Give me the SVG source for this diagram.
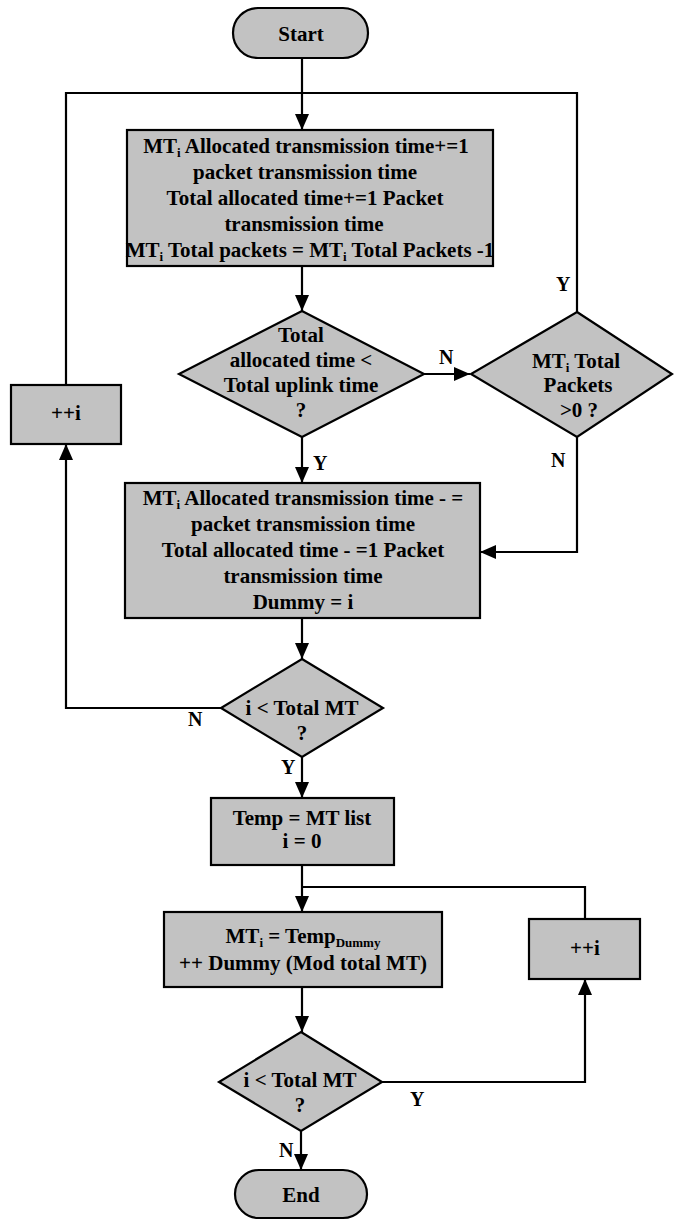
<svg xmlns="http://www.w3.org/2000/svg" width="674" height="1223" viewBox="0 0 674 1223">
  <style>
    .shape { fill: #c2c2c2; stroke: #000; stroke-width: 2.2; }
    .txt { font-family: "Liberation Serif", "Times New Roman", serif; font-weight: bold; font-size: 21px; fill: #000; text-anchor: middle; }
    .lbl { font-family: "Liberation Serif", "Times New Roman", serif; font-weight: bold; font-size: 20px; fill: #000; }
    .sub { font-size: 13px; }
    .conn { fill: none; stroke: #000; stroke-width: 2.2; }
  </style>
  <defs>
    <marker id="arrow" viewBox="0 0 16 14" refX="16" refY="7" markerWidth="16" markerHeight="14" markerUnits="userSpaceOnUse" orient="auto">
      <path d="M0,0 L16,7 L0,14 z" fill="#000"/>
    </marker>
  </defs>

  <rect width="674" height="1223" fill="#fff"/>

  <!-- connectors -->
  <g id="connectors">
    <path class="conn" d="M302,58 V130" marker-end="url(#arrow)"/>
    <path class="conn" d="M66,385 V93 H302"/>
    <path class="conn" d="M577,312 V93 H302"/>
    <path class="conn" d="M302,266 V311" marker-end="url(#arrow)"/>
    <path class="conn" d="M423,374 H470" marker-end="url(#arrow)"/>
    <path class="conn" d="M577,437 V552 H480" marker-end="url(#arrow)"/>
    <path class="conn" d="M302,437 V483" marker-end="url(#arrow)"/>
    <path class="conn" d="M302,618 V659" marker-end="url(#arrow)"/>
    <path class="conn" d="M221,708 H66 V444" marker-end="url(#arrow)"/>
    <path class="conn" d="M302,757 V798" marker-end="url(#arrow)"/>
    <path class="conn" d="M302,865 V912" marker-end="url(#arrow)"/>
    <path class="conn" d="M585,919 V887 H302"/>
    <path class="conn" d="M302,987 V1032" marker-end="url(#arrow)"/>
    <path class="conn" d="M382,1082 H585 V979" marker-end="url(#arrow)"/>
    <path class="conn" d="M301,1131 V1170" marker-end="url(#arrow)"/>
    <text class="lbl" x="439" y="364">N</text>
    <text class="lbl" x="556" y="291">Y</text>
    <text class="lbl" x="551" y="467">N</text>
    <text class="lbl" x="313" y="470">Y</text>
    <text class="lbl" x="188" y="726">N</text>
    <text class="lbl" x="281" y="774">Y</text>
    <text class="lbl" x="410" y="1106">Y</text>
    <text class="lbl" x="279" y="1157">N</text>
  </g>

  <!-- start -->
  <g id="start">
    <rect class="shape" x="233" y="8" width="135" height="50" rx="25" ry="25"/>
    <text class="txt" x="301" y="41">Start</text>
  </g>

  <!-- per-MT allocation step -->
  <g id="allocate">
    <rect class="shape" x="127" y="130" width="366" height="136"/>
    <text class="txt" x="306" y="153">MT<tspan class="sub" dy="4">i</tspan><tspan dy="-4"> Allocated transmission time+=1</tspan></text>
    <text class="txt" x="305" y="179">packet transmission time</text>
    <text class="txt" x="305" y="205">Total allocated time+=1 Packet</text>
    <text class="txt" x="304" y="231">transmission time</text>
    <text class="txt" x="310" y="257">MT<tspan class="sub" dy="4">i</tspan><tspan dy="-4"> Total packets = MT</tspan><tspan class="sub" dy="4">i</tspan><tspan dy="-4"> Total Packets -1</tspan></text>
  </g>

  <!-- uplink time check -->
  <g id="check-uplink">
    <polygon class="shape" points="302,311 424,374 302,437 179,374"/>
    <text class="txt" x="301" y="342">Total</text>
    <text class="txt" x="301" y="367">allocated time &lt;</text>
    <text class="txt" x="301" y="392">Total uplink time</text>
    <text class="txt" x="301" y="417">?</text>
  </g>

  <!-- remaining packets check -->
  <g id="check-packets">
    <polygon class="shape" points="577,312 672,374 577,437 471,374"/>
    <text class="txt" x="576" y="368">MT<tspan class="sub" dy="4">i</tspan><tspan dy="-4"> Total</tspan></text>
    <text class="txt" x="578" y="392">Packets</text>
    <text class="txt" x="579" y="417">&gt;0 ?</text>
  </g>

  <!-- roll back step -->
  <g id="rollback">
    <rect class="shape" x="125" y="483" width="355" height="135"/>
    <text class="txt" x="303" y="505">MT<tspan class="sub" dy="4">i</tspan><tspan dy="-4"> Allocated transmission time - =</tspan></text>
    <text class="txt" x="303" y="531">packet transmission time</text>
    <text class="txt" x="303" y="557">Total allocated time - =1 Packet</text>
    <text class="txt" x="303" y="583">transmission time</text>
    <text class="txt" x="303" y="609">Dummy = i</text>
  </g>

  <!-- increment, first loop -->
  <g id="inc-1">
    <rect class="shape" x="11" y="385" width="110" height="59"/>
    <text class="txt" x="66" y="420">++i</text>
  </g>

  <!-- first loop check -->
  <g id="check-mt-1">
    <polygon class="shape" points="302,659 383,708 302,757 221,708"/>
    <text class="txt" x="302" y="715">i &lt; Total MT</text>
    <text class="txt" x="302" y="740">?</text>
  </g>

  <!-- copy list -->
  <g id="copy-list">
    <rect class="shape" x="211" y="798" width="183" height="67"/>
    <text class="txt" x="302" y="825">Temp = MT list</text>
    <text class="txt" x="302" y="848">i = 0</text>
  </g>

  <!-- reorder step -->
  <g id="reorder">
    <rect class="shape" x="164" y="912" width="278" height="75"/>
    <text class="txt" x="303" y="943">MT<tspan class="sub" dy="4">i</tspan><tspan dy="-4"> = Temp</tspan><tspan class="sub" dy="4">Dummy</tspan></text>
    <text class="txt" x="303" y="970">++ Dummy (Mod total MT)</text>
  </g>

  <!-- increment, second loop -->
  <g id="inc-2">
    <rect class="shape" x="529" y="919" width="111" height="60"/>
    <text class="txt" x="585" y="955">++i</text>
  </g>

  <!-- second loop check -->
  <g id="check-mt-2">
    <polygon class="shape" points="301,1032 382,1082 301,1131 219,1082"/>
    <text class="txt" x="300" y="1087">i &lt; Total MT</text>
    <text class="txt" x="300" y="1112">?</text>
  </g>

  <!-- end -->
  <g id="end">
    <rect class="shape" x="235" y="1170" width="132" height="48" rx="24" ry="24"/>
    <text class="txt" x="301" y="1202">End</text>
  </g>
</svg>
